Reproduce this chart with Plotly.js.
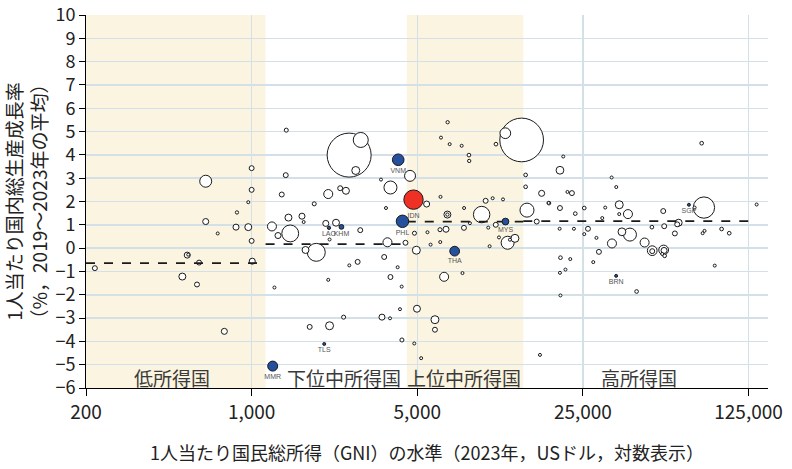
<!DOCTYPE html>
<html><head><meta charset="utf-8">
<script src="https://cdn.plot.ly/plotly-3.0.1.min.js"></script>
<style>html,body{margin:0;padding:0;background:#fff}#chart{width:792px;height:469px}</style>
</head><body><div id="chart"></div>
<script>
// ---- data ----
// Other countries: GNI per capita 2023 (USD), growth (%), population (millions)
const otherGNI = [218,640,1000,1000,968,867,640,719,859,968,1000,535,540,600,1006,510,588,767,
 1400,1393,1340,2105,2364,2500,1837,1430,1631,1658,1218,1455,1292,2055,2270,2132,2873,1688,1874,2801,2583,2105,1248,2444,1758,2132,
 2579,2887,2750,3514,3853,3689,3625,3742,4132,3853,4297,4227,3548,3837,4307,4459,
 4660,5476,4955,4865,5520,5690,6250,6235,6610,7870,8340,6700,6700,6265,7880,6715,6295,6850,7695,8260,8280,9715,10400,11500,9345,
 10720,9965,12030,12915,12300,11060,10100,6490,7757,4984,5937,5937,4855,5192,10740,11760,13785,
 14520,14330,14330,16740,17920,15960,20650,20000,21510,22470,17970,20000,23210,25330,31050,35580,38730,35580,30170,33040,34570,
 79260,54560,74000,81040,135200,19940,22910,26260,25330,28510,36520,39480,48870,55080,63370,62500,61100,80000,81500,96210,103600,
 33150,45530,49030,49030,54780,55000,55300,54000,29210,20100,22110,27640,90000,21100,20000,42120,20100,16470];
const otherGrowth = [-0.86,2.87,3.43,2.50,1.97,1.53,1.14,0.63,0.90,0.90,0.31,-0.30,-0.28,-0.62,-0.56,-1.22,-1.56,-3.57,
 5.06,3.13,2.30,2.32,2.57,2.46,1.90,1.31,1.37,1.12,0.93,0.63,0.54,1.06,1.09,0.37,0.77,-0.08,-0.18,-0.59,-0.74,-1.36,-1.69,-2.96,-3.38,-3.33,
 3.99,4.64,3.33,2.94,2.60,1.72,-0.38,0.25,-0.82,-1.24,-1.65,-2.62,-2.96,-3.01,-3.94,0.23,
 3.10,1.89,-0.09,0.64,0.68,0.15,0.26,0.79,0.81,0.87,1.07,1.44,1.44,2.20,1.72,5.40,4.74,4.46,4.39,3.99,3.74,2.03,2.14,2.09,1.44,
 1.00,0.88,0.23,0.42,0.36,0.46,0.08,-1.23,-1.07,-2.60,-3.07,-3.50,-4.09,-4.72,4.46,4.93,4.64,
 1.63,3.14,2.63,2.35,1.94,1.14,3.93,3.34,2.41,2.36,1.93,1.72,1.48,1.72,1.74,1.86,1.46,1.46,1.29,3.03,2.62,
 4.50,1.59,1.74,1.74,1.87,0.83,0.83,0.83,0.60,0.44,0.70,0.58,0.90,0.94,1.09,1.02,0.63,0.64,0.74,0.82,0.64,
 0.20,0.24,-0.11,-0.13,-0.08,-0.10,-0.33,-0.25,-0.16,-0.41,-0.47,-0.60,-0.75,-0.92,-1.06,-1.86,-2.03,-4.58];
const otherPop = [18,106,18,18,3,8,27,3,27,36,18,27,6,18,27,36,18,27,
 12,18,18,60,18,36,12,36,27,3,60,210,27,27,36,3,18,36,239,18,3,3,3,12,18,47,
 1430,166,47,3,125,3,18,60,3,18,3,3,27,3,12,18,
 89,27,47,12,3,3,3,12,27,18,3,36,8,3,3,8,3,3,3,10,8,18,2,3,200,
 18,3,125,47,2,3,3,60,3,36,47,18,3,3,10,85,1410,
 145,10,10,27,3,18,4,45,3,18,10,18,10,10,3,47,60,2,2,3,2,
 10,18,2,335,2,3,2,18,3,3,45,125,10,18,36,18,18,3,2,10,10,
 60,60,70,18,70,27,10,3,18,10,2,3,3,3,3,10,3,3];

// ASEAN members
const aseanCodes  = ['VNM','PHL','LAO','KHM','MYS','THA','SGP','BRN','TLS','MMR'];
const aseanGNI    = [4155,4330,2120,2393,11780,7190,70030,34530,2025,1227];
const aseanGrowth = [3.79,1.15,0.87,0.91,1.14,-0.13,1.86,-1.19,-4.11,-5.06];
const aseanPop    = [100,115,8,17,34,70,6,2,2,74];

// Indonesia
const idnCodes  = ['IDN'];
const idnGNI    = [4820];
const idnGrowth = [2.08];
const idnPop    = [278];

// Income groups
const groupNames  = ['低所得国','下位中所得国','上位中所得国','高所得国'];
const groupBounds = [200,1145,4515,14005,133000];
const groupMeans  = [-0.64,0.17,1.14,1.16];
const groupShaded = [true,false,true,false];

// Axis ticks
const xTickVals  = [200,1000,5000,25000,125000];
const xTickText  = ['200','1,000','5,000','25,000','125,000'];
const yTickVals  = [-6,-5,-4,-3,-2,-1,0,1,2,3,4,5,6,7,8,9,10];

// ---- chart ----
const FONT = '"Noto Sans CJK JP", "Noto Sans", sans-serif';
const SIZEREF = 2*1430/(44*44);
const X_MIN = 200, X_MAX = 151000, Y_MIN = -6, Y_MAX = 10.0;
const lx0 = Math.log10(X_MIN), lx1 = Math.log10(X_MAX);
const toPaperX = v => (Math.log10(v) - lx0) / (lx1 - lx0);

// draw larger bubbles first
const order = otherPop.map((p,i)=>i).sort((a,b)=>otherPop[b]-otherPop[a]);

const traces = [];
traces.push({
  type:'scatter', mode:'markers', hoverinfo:'skip',
  x: order.map(i=>otherGNI[i]), y: order.map(i=>otherGrowth[i]),
  marker:{size: order.map(i=>otherPop[i]), sizemode:'area', sizeref:SIZEREF, sizemin:1.5, opacity:1,
          color:'#ffffff', line:{color:'#1a1a1a', width:1}}
});
groupMeans.forEach((m,k)=>{
  traces.push({type:'scatter', mode:'lines', hoverinfo:'skip',
    x:[groupBounds[k], groupBounds[k+1]], y:[m,m],
    line:{color:'#1a1a1a', width:1.8, dash:'dash'}});
});
traces.push({
  type:'scatter', mode:'markers+text', hoverinfo:'skip',
  x: aseanGNI, y: aseanGrowth, text: aseanCodes, textposition:'bottom center',
  textfont:{family:'"Liberation Sans", Arial, sans-serif', size:7, color:'#555'},
  marker:{size: aseanPop, sizemode:'area', sizeref:SIZEREF, sizemin:1.5, opacity:1,
          color:'#24509e', line:{color:'#1a1a1a', width:1}}
});
traces.push({
  type:'scatter', mode:'markers+text', hoverinfo:'skip',
  x: idnGNI, y: idnGrowth, text: idnCodes, textposition:'bottom center',
  textfont:{family:'"Liberation Sans", Arial, sans-serif', size:7, color:'#555'},
  marker:{size: idnPop, sizemode:'area', sizeref:SIZEREF, opacity:1,
          color:'#ee3124', line:{color:'#1a1a1a', width:1}}
});

const shapes = [];
groupShaded.forEach((s,k)=>{
  if(!s) return;
  shapes.push({type:'rect', xref:'paper', yref:'paper', layer:'below',
    x0:toPaperX(groupBounds[k]), x1:toPaperX(groupBounds[k+1]), y0:0, y1:1,
    fillcolor:'#faf4e0', line:{width:0}});
});

const labelX = [2.662, 3.39, 3.896, 4.634];
const annotations = groupNames.map((n,k)=>({
  xref:'paper', yref:'y', x:(labelX[k]-lx0)/(lx1-lx0), y:-5.56, text:n, showarrow:false,
  font:{family:FONT, size:19, color:'#3a3a3a'}, xanchor:'center', yanchor:'middle'
}));

const layout = {
  width:792, height:469,
  margin:{l:86, r:24, t:15, b:81},
  paper_bgcolor:'#fff', plot_bgcolor:'#fff',
  showlegend:false,
  font:{family:FONT, color:'#222'},
  xaxis:{type:'log', range:[lx0, lx1],
    tickvals:xTickVals, ticktext:xTickText,
    showgrid:true, gridcolor:'#d3e0e8', gridwidth:1.5,
    ticks:'outside', ticklen:7, tickcolor:'#000', tickwidth:1,
    showline:true, linecolor:'#000', linewidth:1, zeroline:false,
    tickfont:{family:FONT, size:19, color:'#222'},
    title:{text:'1人当たり国民総所得（GNI）の水準（2023年，USドル，対数表示）',
      font:{family:FONT, size:18, color:'#222'}, standoff:24}},
  yaxis:{range:[Y_MIN, Y_MAX], tickvals:yTickVals, ticklabeloverflow:'allow',
    showgrid:true, gridcolor:'#d3e0e8', gridwidth:1.5,
    ticks:'outside', ticklen:6, tickcolor:'#000', tickwidth:1,
    showline:true, linecolor:'#000', linewidth:1, zeroline:false,
    tickfont:{family:FONT, size:18, color:'#222'},
    title:{text:'1人当たり国内総生産成長率<br>（%，2019～2023年の平均）',
      font:{family:FONT, size:19, color:'#222'}, standoff:8}},
  shapes: shapes,
  annotations: annotations
};

Plotly.newPlot('chart', traces, layout, {displayModeBar:false, staticPlot:true});
</script></body></html>
